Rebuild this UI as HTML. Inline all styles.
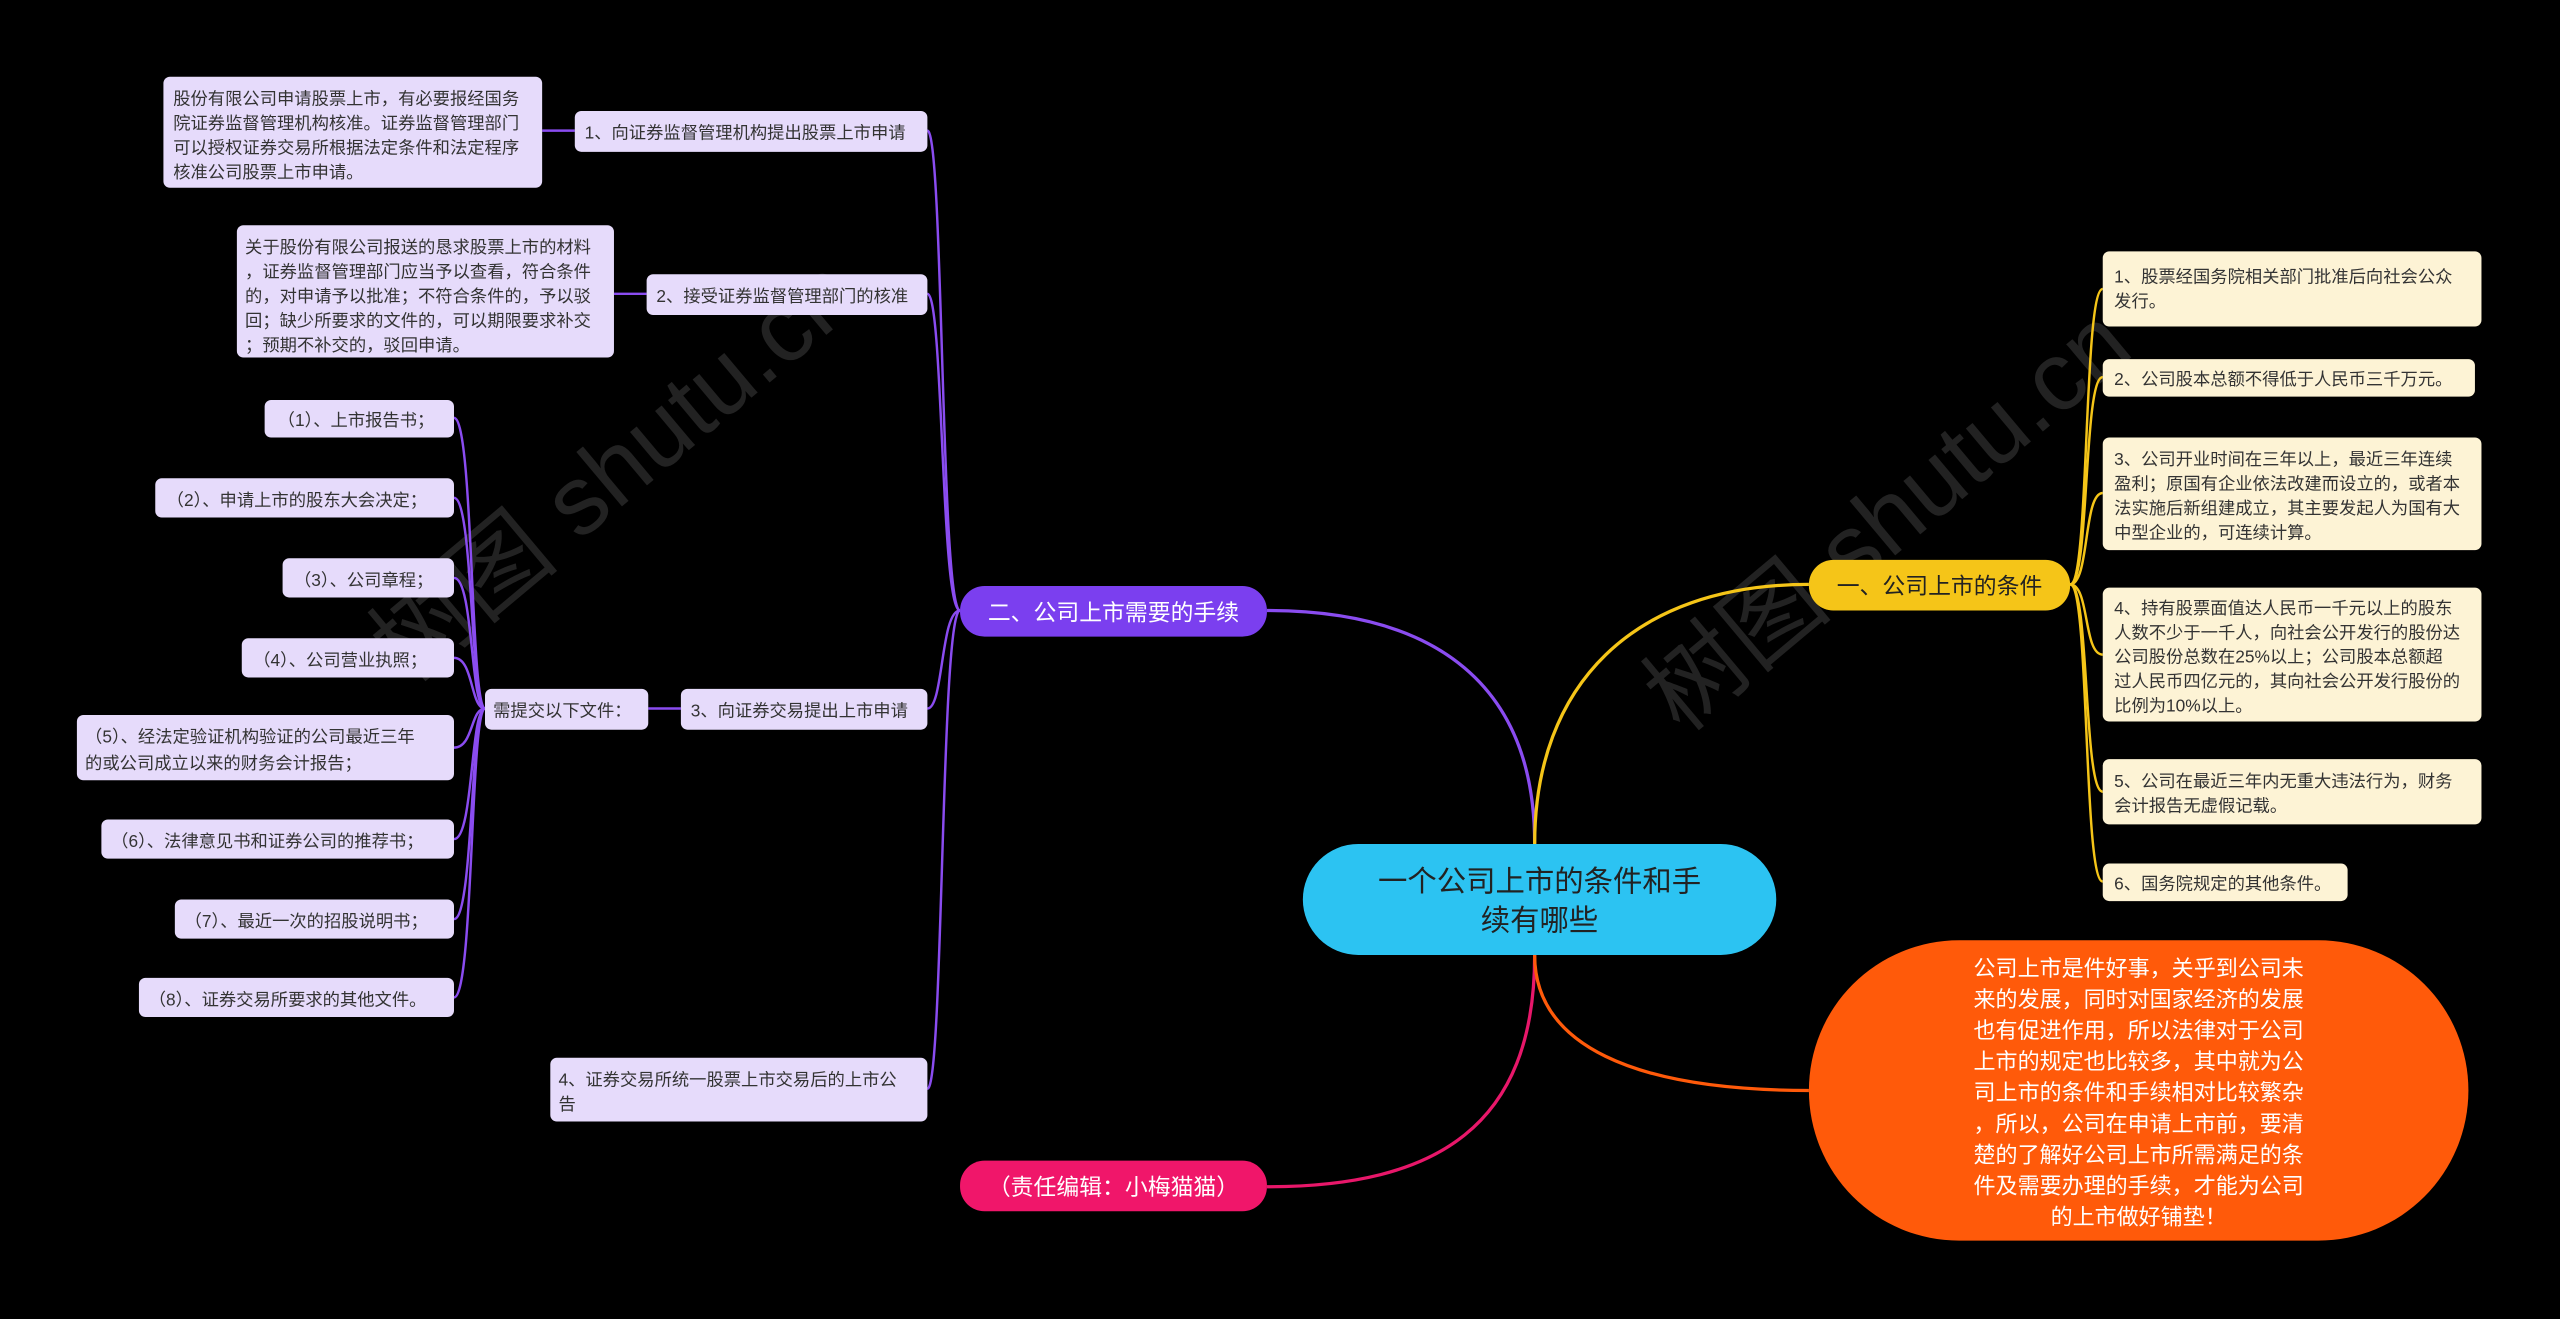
<!DOCTYPE html>
<html><head><meta charset="utf-8"><style>
html,body{margin:0;padding:0;background:#000;width:2560px;height:1319px;overflow:hidden}
svg{display:block}
text{font-family:"Liberation Sans","Noto Sans CJK SC",sans-serif}
</style></head><body>
<svg width="2560" height="1319" viewBox="0 0 1568 808" xmlns="http://www.w3.org/2000/svg">
<rect width="1568" height="808" fill="#000"/>
<g fill="#222" font-size="60">
<text transform="translate(250,420) rotate(-40)">树图 shutu.cn</text>
<text transform="translate(1030,450) rotate(-40)">树图 shutu.cn</text>
</g>
<g fill="none" stroke-width="2">
<path d="M940,517 C940,420 880,374 776,374" stroke="#8a4cf0"/>
<path d="M940,517 C940,420 1000,358 1108,358" stroke="#f5c518"/>
<path d="M940,585 C940,690 880,727 776,727" stroke="#e8176a"/>
<path d="M940,585 C940,640 1000,668 1108,668" stroke="#ff5a0a"/>
</g>
<g fill="none" stroke="#8a4cf0" stroke-width="1.5">
<path d="M588,374 C576,374 578,80 568,80"/>
<path d="M588,374 C576,374 578,180 568,180"/>
<path d="M588,374 C576,374 578,434 568,434"/>
<path d="M588,374 C576,374 578,667 568,667"/>
<path d="M352,80 L332,80"/>
<path d="M396,180 L376,180"/>
<path d="M417,434 L397,434"/>
<path d="M297,434 C288,434 290,256 278,256"/>
<path d="M297,434 C288,434 290,305 278,305"/>
<path d="M297,434 C288,434 290,354 278,354"/>
<path d="M297,434 C288,434 290,403 278,403"/>
<path d="M297,434 C288,434 290,458 278,458"/>
<path d="M297,434 C288,434 290,514 278,514"/>
<path d="M297,434 C288,434 290,563 278,563"/>
<path d="M297,434 C288,434 290,611 278,611"/>
</g>
<g fill="none" stroke="#f5c518" stroke-width="1.5">
<path d="M1268,358 C1280,358 1276,177 1288,177"/>
<path d="M1268,358 C1280,358 1276,231 1288,231"/>
<path d="M1268,358 C1280,358 1276,302 1288,302"/>
<path d="M1268,358 C1280,358 1276,401 1288,401"/>
<path d="M1268,358 C1280,358 1276,485 1288,485"/>
<path d="M1268,358 C1280,358 1276,540 1288,540"/>
</g>
<rect x="798" y="517" width="290" height="68" rx="34" fill="#2cc3f2"/>
<text x="943" y="546" font-size="18" fill="#222" text-anchor="middle">一个公司上市的条件和手</text>
<text x="943" y="570" font-size="18" fill="#222" text-anchor="middle">续有哪些</text>
<rect x="1108" y="343" width="160" height="31" rx="15" fill="#f5c518"/>
<text x="1188" y="364" font-size="14" fill="#222" text-anchor="middle">一、公司上市的条件</text>
<rect x="588" y="359" width="188" height="31" rx="15" fill="#7b3fef"/>
<text x="682" y="380" font-size="14" fill="#fff" text-anchor="middle">二、公司上市需要的手续</text>
<rect x="588" y="711" width="188" height="31" rx="15" fill="#f0166a"/>
<text x="682" y="732" font-size="14" fill="#fff" text-anchor="middle">（责任编辑：小梅猫猫）</text>
<rect x="1108" y="576" width="404" height="184" rx="92" fill="#ff5a0a"/>
<g font-size="13.5" fill="#fff" text-anchor="middle">
<text x="1310" y="598">公司上市是件好事，关乎到公司未</text>
<text x="1310" y="617">来的发展，同时对国家经济的发展</text>
<text x="1310" y="636">也有促进作用，所以法律对于公司</text>
<text x="1310" y="655">上市的规定也比较多，其中就为公</text>
<text x="1310" y="674">司上市的条件和手续相对比较繁杂</text>
<text x="1310" y="693">，所以，公司在申请上市前，要清</text>
<text x="1310" y="712">楚的了解好公司上市所需满足的条</text>
<text x="1310" y="731">件及需要办理的手续，才能为公司</text>
<text x="1310" y="750">的上市做好铺垫！</text>
</g>
<g fill="#fdf3d5">
<rect x="1288" y="154" width="232" height="46" rx="4"/>
<rect x="1288" y="220" width="228" height="23" rx="4"/>
<rect x="1288" y="268" width="232" height="69" rx="4"/>
<rect x="1288" y="360" width="232" height="82" rx="4"/>
<rect x="1288" y="465" width="232" height="40" rx="4"/>
<rect x="1288" y="529" width="150" height="23" rx="4"/>
</g>
<g font-size="10.6" fill="#333">
<text x="1295" y="173">1、股票经国务院相关部门批准后向社会公众</text>
<text x="1295" y="188">发行。</text>
<text x="1295" y="236">2、公司股本总额不得低于人民币三千万元。</text>
<text x="1295" y="285">3、公司开业时间在三年以上，最近三年连续</text>
<text x="1295" y="300">盈利；原国有企业依法改建而设立的，或者本</text>
<text x="1295" y="315">法实施后新组建成立，其主要发起人为国有大</text>
<text x="1295" y="330">中型企业的，可连续计算。</text>
<text x="1295" y="376">4、持有股票面值达人民币一千元以上的股东</text>
<text x="1295" y="391">人数不少于一千人，向社会公开发行的股份达</text>
<text x="1295" y="406">公司股份总数在25%以上；公司股本总额超</text>
<text x="1295" y="421">过人民币四亿元的，其向社会公开发行股份的</text>
<text x="1295" y="436">比例为10%以上。</text>
<text x="1295" y="482">5、公司在最近三年内无重大违法行为，财务</text>
<text x="1295" y="497">会计报告无虚假记载。</text>
<text x="1295" y="545">6、国务院规定的其他条件。</text>
</g>
<g fill="#e6dbfb">
<rect x="352" y="68" width="216" height="25" rx="4"/>
<rect x="100" y="47" width="232" height="68" rx="4"/>
<rect x="396" y="168" width="172" height="25" rx="4"/>
<rect x="145" y="138" width="231" height="81" rx="4"/>
<rect x="417" y="422" width="151" height="25" rx="4"/>
<rect x="297" y="422" width="100" height="25" rx="4"/>
<rect x="337" y="648" width="231" height="39" rx="4"/>
<rect x="162" y="245" width="116" height="23" rx="4"/>
<rect x="95" y="293" width="183" height="24" rx="4"/>
<rect x="173" y="342" width="105" height="24" rx="4"/>
<rect x="148" y="391" width="130" height="24" rx="4"/>
<rect x="47" y="438" width="231" height="40" rx="4"/>
<rect x="62" y="502" width="216" height="24" rx="4"/>
<rect x="107" y="551" width="171" height="24" rx="4"/>
<rect x="85" y="599" width="193" height="24" rx="4"/>
</g>
<g font-size="10.6" fill="#333">
<text x="358" y="85">1、向证券监督管理机构提出股票上市申请</text>
<text x="106" y="64">股份有限公司申请股票上市，有必要报经国务</text>
<text x="106" y="79">院证券监督管理机构核准。证券监督管理部门</text>
<text x="106" y="94">可以授权证券交易所根据法定条件和法定程序</text>
<text x="106" y="109">核准公司股票上市申请。</text>
<text x="402" y="185">2、接受证券监督管理部门的核准</text>
<text x="150" y="155">关于股份有限公司报送的恳求股票上市的材料</text>
<text x="150" y="170">，证券监督管理部门应当予以查看，符合条件</text>
<text x="150" y="185">的，对申请予以批准；不符合条件的，予以驳</text>
<text x="150" y="200">回；缺少所要求的文件的，可以期限要求补交</text>
<text x="150" y="215">；预期不补交的，驳回申请。</text>
<text x="423" y="439">3、向证券交易提出上市申请</text>
<text x="302" y="439">需提交以下文件：</text>
<text x="342" y="665">4、证券交易所统一股票上市交易后的上市公</text>
<text x="342" y="680">告</text>
<text x="170" y="261">（1）、上市报告书；</text>
<text x="102" y="310">（2）、申请上市的股东大会决定；</text>
<text x="180" y="359">（3）、公司章程；</text>
<text x="155" y="408">（4）、公司营业执照；</text>
<text x="52" y="455">（5）、经法定验证机构验证的公司最近三年</text>
<text x="52" y="471">的或公司成立以来的财务会计报告；</text>
<text x="68" y="519">（6）、法律意见书和证券公司的推荐书；</text>
<text x="113" y="568">（7）、最近一次的招股说明书；</text>
<text x="91" y="616">（8）、证券交易所要求的其他文件。</text>
</g>
</svg>
</body></html>
